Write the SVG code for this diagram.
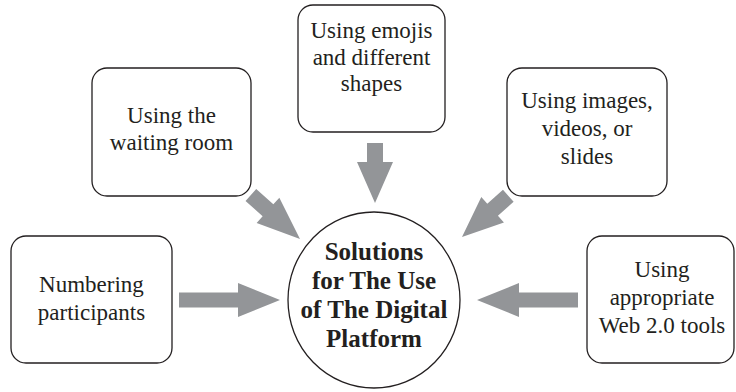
<svg xmlns="http://www.w3.org/2000/svg" width="736" height="392" viewBox="0 0 736 392">
<style>
.box{fill:#fff;stroke:#231f20;stroke-width:1.3}
.t{font-size:23px;fill:#231f20;text-anchor:middle}
.c{font-size:25px;font-weight:bold;fill:#231f20;text-anchor:middle}
.arr{fill:#939598;stroke:none}
</style>
<rect width="736" height="392" fill="#fff"/>
<g id="connectors">
<polygon class="arr" transform="translate(280,300)" points="-101,-7.5 -42,-7.5 -42,-17 0,0 -42,17 -42,7.5 -101,7.5"/>
<polygon class="arr" transform="translate(477,300) rotate(180)" points="-101,-7.5 -42,-7.5 -42,-17 0,0 -42,17 -42,7.5 -101,7.5"/>
<polygon class="arr" transform="translate(375,203) rotate(90)" points="-60,-8 -41,-8 -41,-18 0,0 -41,18 -41,8 -60,8"/>
<polygon class="arr" transform="translate(300,239) rotate(41.9)" points="-66,-8 -43,-8 -43,-17 0,0 -43,17 -43,8 -66,8"/>
<polygon class="arr" transform="translate(462,237) rotate(138.3)" points="-62,-8 -41,-8 -41,-17 0,0 -41,17 -41,8 -62,8"/>
</g>
<g font-family="Liberation Serif">
<g id="center">
<ellipse class="box" cx="374" cy="300" rx="86" ry="88"/>
<text class="c" x="374" y="260">Solutions</text>
<text class="c" x="374" y="289">for The Use</text>
<text class="c" x="374" y="318">of The Digital</text>
<text class="c" x="374" y="347">Platform</text>
</g>
<g id="numbering">
<rect class="box" x="11" y="236" width="161" height="127" rx="15"/>
<text class="t" x="91.5" y="292">Numbering</text>
<text class="t" x="91.5" y="320">participants</text>
</g>
<g id="waiting">
<rect class="box" x="92" y="68" width="159" height="128" rx="15"/>
<text class="t" x="171.5" y="123">Using the</text>
<text class="t" x="171.5" y="150">waiting room</text>
</g>
<g id="emojis">
<rect class="box" x="298" y="5" width="147" height="127" rx="15"/>
<text class="t" x="371.5" y="38">Using emojis</text>
<text class="t" x="371.5" y="65">and different</text>
<text class="t" x="371.5" y="91">shapes</text>
</g>
<g id="images">
<rect class="box" x="507" y="68" width="160" height="128" rx="15"/>
<text class="t" x="587" y="108">Using images,</text>
<text class="t" x="587" y="136">videos, or</text>
<text class="t" x="587" y="164">slides</text>
</g>
<g id="web">
<rect class="box" x="587" y="236" width="147" height="127" rx="15"/>
<text class="t" x="662" y="277">Using</text>
<text class="t" x="662" y="305">appropriate</text>
<text class="t" x="662" y="333">Web 2.0 tools</text>
</g>
</g>
</svg>
